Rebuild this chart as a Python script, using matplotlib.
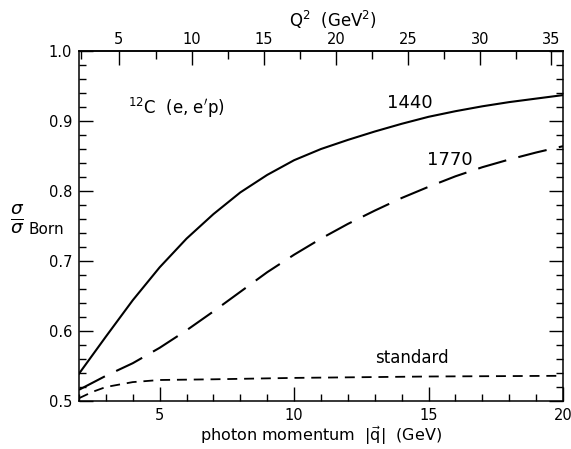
import numpy as np
import matplotlib
matplotlib.use("Agg")
import matplotlib.pyplot as plt
from matplotlib.ticker import MultipleLocator, FormatStrFormatter

# photon momentum |q| (GeV)
q_vals = [2, 3, 4, 5, 6, 7, 8, 9, 10, 11, 12, 13, 14, 15, 16, 17, 18, 19, 20]
ratio_1440 = [0.539, 0.592, 0.644, 0.691, 0.732, 0.767, 0.798, 0.823, 0.844,
              0.860, 0.873, 0.885, 0.896, 0.906, 0.914, 0.921, 0.927, 0.932, 0.937]
ratio_1770 = [0.516, 0.536, 0.554, 0.576, 0.601, 0.628, 0.656, 0.684, 0.709,
              0.732, 0.753, 0.772, 0.790, 0.806, 0.821, 0.834, 0.845, 0.855, 0.864]

q_std = [2, 2.5, 3, 4, 5, 7, 10, 15, 20]
ratio_std = [0.504, 0.513, 0.520, 0.527, 0.530, 0.531, 0.533, 0.535, 0.536]

Q2_ticks = [5, 10, 15, 20, 25, 30, 35]

M = 0.938  # nucleon mass, GeV


def q_to_Q2(q):
    q = np.asarray(q, dtype=float)
    return 2 * M**2 * (np.sqrt(1 + q**2 / M**2) - 1)


def Q2_to_q(Q2):
    Q2 = np.asarray(Q2, dtype=float)
    t = Q2 / (2 * M**2) + 1
    return M * np.sqrt(np.clip(t**2 - 1, 0, None))


plt.rcParams["font.family"] = "DejaVu Sans"
plt.rcParams["mathtext.fontset"] = "dejavusans"

fig = plt.figure(figsize=(5.71, 4.49), dpi=100)
ax = fig.add_axes([79 / 571, 1 - 401 / 449, (563 - 79) / 571, (401 - 51) / 449])

ax.plot(q_vals, ratio_1440, "-", color="black", linewidth=1.5,
        solid_joinstyle="round")
ax.plot(q_vals, ratio_1770, color="black", linewidth=1.5, dashes=(14, 6))
ax.plot(q_std, ratio_std, color="black", linewidth=1.3, dashes=(5.5, 3.8))

ax.set_xlim(2, 20)
ax.set_ylim(0.5, 1.0)
ax.xaxis.set_major_locator(MultipleLocator(5))
ax.xaxis.set_minor_locator(MultipleLocator(1))
ax.yaxis.set_major_locator(MultipleLocator(0.1))
ax.yaxis.set_minor_locator(MultipleLocator(0.02))
ax.yaxis.set_major_formatter(FormatStrFormatter("%.1f"))
ax.tick_params(which="both", direction="in", top=False, right=True,
               labelsize=10.5, width=1.0)
ax.tick_params(which="major", length=10, pad=5)
ax.tick_params(which="minor", length=5)
for s in ax.spines.values():
    s.set_linewidth(1.1)

sec = ax.secondary_xaxis("top", functions=(q_to_Q2, Q2_to_q))
sec.set_xticks(Q2_ticks)
sec.xaxis.set_minor_locator(MultipleLocator(2.5))
sec.tick_params(which="both", direction="in", labelsize=10.5, width=1.0)
sec.tick_params(which="major", length=10, pad=3)
sec.tick_params(which="minor", length=6)
sec.spines["top"].set_linewidth(1.1)

ax.set_xlabel(r"photon momentum  $|\vec{\mathrm{q}}|$  (GeV)", fontsize=11.5, labelpad=1)
fig.text(333 / 571, 1 - 20 / 449, r"Q$^2$  (GeV$^2$)", fontsize=12,
         ha="center", va="center")

# y label: sigma over sigma^Born
fig.text(17 / 571, 1 - 219 / 449, r"$\frac{\sigma}{\sigma}$", fontsize=19,
         ha="center", va="center")
fig.text(28 / 571, 1 - 229 / 449, "Born", fontsize=11, ha="left", va="center")

ax.text(3.82, 0.919, r"$^{12}$C  (e, e$'$p)", fontsize=12, ha="left", va="center")
ax.text(13.45, 0.926, "1440", fontsize=13, ha="left", va="center")
ax.text(14.94, 0.844, "1770", fontsize=13, ha="left", va="center")
ax.text(13.0, 0.561, "standard", fontsize=12, ha="left", va="center")

fig.savefig("out.png", dpi=100)
